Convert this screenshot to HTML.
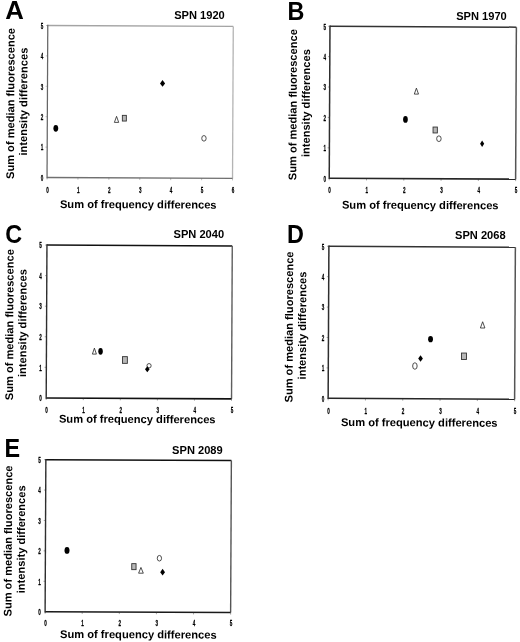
<!DOCTYPE html>
<html><head><meta charset="utf-8"><style>
html,body{margin:0;padding:0;background:#fff;width:520px;height:642px;overflow:hidden}
svg{display:block;filter:grayscale(1)}
text{font-family:"Liberation Sans", sans-serif;font-weight:bold;fill:#000}
.t{stroke:#000;stroke-width:0.25px}
</style></head><body>
<svg width="520" height="642" viewBox="0 0 520 642">
<rect width="520" height="642" fill="#fff"/>
<g><line x1="47.77" y1="25.51" x2="233.27" y2="26.41" stroke="#a4a4a4" stroke-width="1.3"/><line x1="233.27" y1="26.41" x2="232.53" y2="178.41" stroke="#b4b4b4" stroke-width="1.3"/><line x1="47.03" y1="177.51" x2="232.53" y2="178.41" stroke="#707070" stroke-width="1.3"/><line x1="47.78" y1="24.81" x2="47.03" y2="178.21" stroke="#666" stroke-width="1.25"/><path d="M47.03 177.51v2M77.95 177.66v2M108.86 177.81v2M139.78 177.96v2M170.69 178.11v2M201.61 178.26v2M232.53 178.41v2M47.18 147.11h-1.8M47.33 116.71h-1.8M47.48 86.31h-1.8M47.62 55.91h-1.8M47.77 25.51h-1.8" stroke="#666" stroke-width="0.7" fill="none" opacity="0.6"/><text transform="translate(47.4 193) scale(0.56 1)" font-size="8.2" text-anchor="middle" class="t">0</text><text transform="translate(78.32 193) scale(0.56 1)" font-size="8.2" text-anchor="middle" class="t">1</text><text transform="translate(109.23 193) scale(0.56 1)" font-size="8.2" text-anchor="middle" class="t">2</text><text transform="translate(140.15 193) scale(0.56 1)" font-size="8.2" text-anchor="middle" class="t">3</text><text transform="translate(171.07 193) scale(0.56 1)" font-size="8.2" text-anchor="middle" class="t">4</text><text transform="translate(201.98 193) scale(0.56 1)" font-size="8.2" text-anchor="middle" class="t">5</text><text transform="translate(232.9 193) scale(0.56 1)" font-size="8.2" text-anchor="middle" class="t">6</text><text transform="translate(43.2 180.79) scale(0.56 1)" font-size="8.2" text-anchor="end" class="t">0</text><text transform="translate(43.2 150.39) scale(0.56 1)" font-size="8.2" text-anchor="end" class="t">1</text><text transform="translate(43.2 119.99) scale(0.56 1)" font-size="8.2" text-anchor="end" class="t">2</text><text transform="translate(43.2 89.59) scale(0.56 1)" font-size="8.2" text-anchor="end" class="t">3</text><text transform="translate(43.2 59.19) scale(0.56 1)" font-size="8.2" text-anchor="end" class="t">4</text><text transform="translate(43.2 28.79) scale(0.56 1)" font-size="8.2" text-anchor="end" class="t">5</text><text transform="translate(5.3 19) scale(0.99 1)" font-size="26">A</text><text transform="translate(224.8 18.8) scale(1 1.05)" font-size="11.1" text-anchor="end">SPN 1920</text><text transform="translate(59.9 207.9) rotate(0.28)" font-size="11.15">Sum of frequency differences</text><text transform="translate(14.3 103.5) rotate(-89.72)" font-size="11.1" text-anchor="middle">Sum of median fluorescence</text><text transform="translate(27.25 101.65) rotate(-89.72)" font-size="11.1" text-anchor="middle">intensity differences</text><ellipse cx="55.8" cy="128.3" rx="2.4" ry="3.4" fill="#000"/><path d="M116.55 116.35L118.7 122.4L114.4 122.4Z" fill="#fff" stroke="#222" stroke-width="0.8" stroke-linejoin="round"/><rect x="122.35" y="115.35" width="4" height="5.7" fill="#b8b8b8" stroke="#333" stroke-width="0.9"/><path d="M162.55 80L165.1 83.4L162.55 86.8L160 83.4Z" fill="#000"/><ellipse cx="203.95" cy="138.35" rx="2.2" ry="2.8" fill="#fff" stroke="#3a3a3a" stroke-width="0.9"/></g>
<g><line x1="329.97" y1="26.25" x2="516.37" y2="27.16" stroke="#333" stroke-width="1.5"/><line x1="516.37" y1="27.16" x2="515.63" y2="179.15" stroke="#555" stroke-width="1.5"/><line x1="329.23" y1="178.24" x2="515.63" y2="179.15" stroke="#262626" stroke-width="1.6"/><line x1="329.98" y1="25.55" x2="329.23" y2="178.94" stroke="#2e2e2e" stroke-width="1.5"/><path d="M329.23 178.24v2M366.51 178.43v2M403.79 178.61v2M441.07 178.79v2M478.35 178.97v2M515.63 179.15v2M329.38 147.84h-1.8M329.53 117.44h-1.8M329.68 87.04h-1.8M329.82 56.65h-1.8M329.97 26.25h-1.8" stroke="#2e2e2e" stroke-width="0.7" fill="none" opacity="0.6"/><text transform="translate(329.6 193) scale(0.56 1)" font-size="8.2" text-anchor="middle" class="t">0</text><text transform="translate(366.88 193) scale(0.56 1)" font-size="8.2" text-anchor="middle" class="t">1</text><text transform="translate(404.16 193) scale(0.56 1)" font-size="8.2" text-anchor="middle" class="t">2</text><text transform="translate(441.44 193) scale(0.56 1)" font-size="8.2" text-anchor="middle" class="t">3</text><text transform="translate(478.72 193) scale(0.56 1)" font-size="8.2" text-anchor="middle" class="t">4</text><text transform="translate(516 193) scale(0.56 1)" font-size="8.2" text-anchor="middle" class="t">5</text><text transform="translate(326 181.53) scale(0.56 1)" font-size="8.2" text-anchor="end" class="t">0</text><text transform="translate(326 151.13) scale(0.56 1)" font-size="8.2" text-anchor="end" class="t">1</text><text transform="translate(326 120.73) scale(0.56 1)" font-size="8.2" text-anchor="end" class="t">2</text><text transform="translate(326 90.33) scale(0.56 1)" font-size="8.2" text-anchor="end" class="t">3</text><text transform="translate(326 59.93) scale(0.56 1)" font-size="8.2" text-anchor="end" class="t">4</text><text transform="translate(326 29.53) scale(0.56 1)" font-size="8.2" text-anchor="end" class="t">5</text><text transform="translate(287.5 19.7) scale(0.9 1)" font-size="26">B</text><text transform="translate(506.8 19.7) scale(1 1.05)" font-size="11.1" text-anchor="end">SPN 1970</text><text transform="translate(341.9 208.6) rotate(0.28)" font-size="11.15">Sum of frequency differences</text><text transform="translate(296.65 104.7) rotate(-89.72)" font-size="11.1" text-anchor="middle">Sum of median fluorescence</text><text transform="translate(309.85 103.15) rotate(-89.72)" font-size="11.1" text-anchor="middle">intensity differences</text><path d="M416.4 88.15L418.5 94.1L414.3 94.1Z" fill="#fff" stroke="#222" stroke-width="0.8" stroke-linejoin="round"/><ellipse cx="405.45" cy="119.45" rx="2.35" ry="3.35" fill="#000"/><rect x="433.05" y="127.05" width="4.3" height="5.9" fill="#b8b8b8" stroke="#333" stroke-width="0.9"/><ellipse cx="438.9" cy="138.7" rx="2.25" ry="2.85" fill="#fff" stroke="#3a3a3a" stroke-width="0.9"/><path d="M482.15 140.5L484.2 143.7L482.15 146.9L480.1 143.7Z" fill="#000"/></g>
<g><line x1="46.95" y1="245.07" x2="232.27" y2="245.97" stroke="#111" stroke-width="1.4"/><line x1="232.27" y1="245.97" x2="231.53" y2="398.83" stroke="#5e5e5e" stroke-width="1.4"/><line x1="46.21" y1="397.93" x2="231.53" y2="398.83" stroke="#111" stroke-width="1.6"/><line x1="46.96" y1="244.37" x2="46.2" y2="398.63" stroke="#2e2e2e" stroke-width="1.4"/><path d="M46.21 397.93v2M83.27 398.11v2M120.33 398.29v2M157.4 398.47v2M194.46 398.65v2M231.53 398.83v2M46.36 367.35h-1.8M46.51 336.78h-1.8M46.66 306.21h-1.8M46.81 275.64h-1.8M46.95 245.07h-1.8" stroke="#2e2e2e" stroke-width="0.7" fill="none" opacity="0.6"/><text transform="translate(46.58 413) scale(0.56 1)" font-size="8.2" text-anchor="middle" class="t">0</text><text transform="translate(83.64 413) scale(0.56 1)" font-size="8.2" text-anchor="middle" class="t">1</text><text transform="translate(120.71 413) scale(0.56 1)" font-size="8.2" text-anchor="middle" class="t">2</text><text transform="translate(157.77 413) scale(0.56 1)" font-size="8.2" text-anchor="middle" class="t">3</text><text transform="translate(194.84 413) scale(0.56 1)" font-size="8.2" text-anchor="middle" class="t">4</text><text transform="translate(231.9 413) scale(0.56 1)" font-size="8.2" text-anchor="middle" class="t">5</text><text transform="translate(41.78 401.21) scale(0.56 1)" font-size="8.2" text-anchor="end" class="t">0</text><text transform="translate(41.78 370.64) scale(0.56 1)" font-size="8.2" text-anchor="end" class="t">1</text><text transform="translate(41.78 340.06) scale(0.56 1)" font-size="8.2" text-anchor="end" class="t">2</text><text transform="translate(41.78 309.49) scale(0.56 1)" font-size="8.2" text-anchor="end" class="t">3</text><text transform="translate(41.78 278.92) scale(0.56 1)" font-size="8.2" text-anchor="end" class="t">4</text><text transform="translate(41.78 248.35) scale(0.56 1)" font-size="8.2" text-anchor="end" class="t">5</text><text transform="translate(5.2 242.6) scale(0.9 1)" font-size="26">C</text><text transform="translate(224.1 237.5) scale(1 1.05)" font-size="11.1" text-anchor="end">SPN 2040</text><text transform="translate(58.9 422.6) rotate(0.28)" font-size="11.15">Sum of frequency differences</text><text transform="translate(13.3 324.7) rotate(-89.72)" font-size="11.1" text-anchor="middle">Sum of median fluorescence</text><text transform="translate(26.35 323.15) rotate(-89.72)" font-size="11.1" text-anchor="middle">intensity differences</text><path d="M94.4 348.15L96.4 354.1L92.4 354.1Z" fill="#fff" stroke="#222" stroke-width="0.8" stroke-linejoin="round"/><ellipse cx="100.55" cy="351.35" rx="2.25" ry="3.35" fill="#000"/><rect x="122.45" y="356.65" width="4.9" height="6.7" fill="#b8b8b8" stroke="#333" stroke-width="0.9"/><ellipse cx="149.05" cy="365.75" rx="2.1" ry="2.2" fill="#fff" stroke="#3a3a3a" stroke-width="0.9"/><path d="M147.3 366.2L149.6 369.25L147.3 372.3L145 369.25Z" fill="#000"/></g>
<g><line x1="328.89" y1="246.26" x2="515.37" y2="247.17" stroke="#333" stroke-width="1.5"/><line x1="515.37" y1="247.17" x2="514.63" y2="399.22" stroke="#555" stroke-width="1.5"/><line x1="328.15" y1="398.31" x2="514.63" y2="399.22" stroke="#262626" stroke-width="1.6"/><line x1="328.9" y1="245.56" x2="328.15" y2="399.01" stroke="#2e2e2e" stroke-width="1.5"/><path d="M328.15 398.31v2M365.45 398.5v2M402.74 398.68v2M440.04 398.86v2M477.33 399.04v2M514.63 399.22v2M328.3 367.9h-1.8M328.45 337.49h-1.8M328.6 307.08h-1.8M328.74 276.67h-1.8M328.89 246.26h-1.8" stroke="#2e2e2e" stroke-width="0.7" fill="none" opacity="0.6"/><text transform="translate(328.52 414) scale(0.56 1)" font-size="8.2" text-anchor="middle" class="t">0</text><text transform="translate(365.82 414) scale(0.56 1)" font-size="8.2" text-anchor="middle" class="t">1</text><text transform="translate(403.11 414) scale(0.56 1)" font-size="8.2" text-anchor="middle" class="t">2</text><text transform="translate(440.41 414) scale(0.56 1)" font-size="8.2" text-anchor="middle" class="t">3</text><text transform="translate(477.7 414) scale(0.56 1)" font-size="8.2" text-anchor="middle" class="t">4</text><text transform="translate(515 414) scale(0.56 1)" font-size="8.2" text-anchor="middle" class="t">5</text><text transform="translate(324.32 401.6) scale(0.56 1)" font-size="8.2" text-anchor="end" class="t">0</text><text transform="translate(324.32 371.19) scale(0.56 1)" font-size="8.2" text-anchor="end" class="t">1</text><text transform="translate(324.32 340.77) scale(0.56 1)" font-size="8.2" text-anchor="end" class="t">2</text><text transform="translate(324.32 310.36) scale(0.56 1)" font-size="8.2" text-anchor="end" class="t">3</text><text transform="translate(324.32 279.95) scale(0.56 1)" font-size="8.2" text-anchor="end" class="t">4</text><text transform="translate(324.32 249.54) scale(0.56 1)" font-size="8.2" text-anchor="end" class="t">5</text><text transform="translate(286.9 243) scale(0.9 1)" font-size="26">D</text><text transform="translate(505.6 239.1) scale(1 1.05)" font-size="11.1" text-anchor="end">SPN 2068</text><text transform="translate(340.9 426) rotate(0.28)" font-size="11.15">Sum of frequency differences</text><text transform="translate(292.85 327) rotate(-89.72)" font-size="11.1" text-anchor="middle">Sum of median fluorescence</text><text transform="translate(306.05 325.5) rotate(-89.72)" font-size="11.1" text-anchor="middle">intensity differences</text><ellipse cx="430.55" cy="339.2" rx="2.45" ry="3.1" fill="#000"/><path d="M420.55 355.2L422.9 358.45L420.55 361.7L418.2 358.45Z" fill="#000"/><ellipse cx="414.9" cy="366" rx="2.25" ry="3.25" fill="#fff" stroke="#3a3a3a" stroke-width="0.9"/><path d="M482.65 321.75L484.9 328L480.4 328Z" fill="#fff" stroke="#222" stroke-width="0.8" stroke-linejoin="round"/><rect x="461.45" y="353.05" width="5" height="6.5" fill="#b8b8b8" stroke="#333" stroke-width="0.9"/></g>
<g><line x1="45.85" y1="459.65" x2="231.37" y2="460.55" stroke="#111" stroke-width="1.5"/><line x1="231.37" y1="460.55" x2="230.63" y2="612.6" stroke="#555" stroke-width="1.4"/><line x1="45.11" y1="611.7" x2="230.63" y2="612.6" stroke="#1a1a1a" stroke-width="1.5"/><line x1="45.86" y1="458.95" x2="45.11" y2="612.4" stroke="#2e2e2e" stroke-width="1.4"/><path d="M45.11 611.7v2M82.21 611.88v2M119.32 612.06v2M156.42 612.24v2M193.52 612.42v2M230.63 612.6v2M45.26 581.29h-1.8M45.41 550.88h-1.8M45.56 520.47h-1.8M45.7 490.06h-1.8M45.85 459.65h-1.8" stroke="#2e2e2e" stroke-width="0.7" fill="none" opacity="0.6"/><text transform="translate(45.48 626) scale(0.56 1)" font-size="8.2" text-anchor="middle" class="t">0</text><text transform="translate(82.58 626) scale(0.56 1)" font-size="8.2" text-anchor="middle" class="t">1</text><text transform="translate(119.69 626) scale(0.56 1)" font-size="8.2" text-anchor="middle" class="t">2</text><text transform="translate(156.79 626) scale(0.56 1)" font-size="8.2" text-anchor="middle" class="t">3</text><text transform="translate(193.9 626) scale(0.56 1)" font-size="8.2" text-anchor="middle" class="t">4</text><text transform="translate(231 626) scale(0.56 1)" font-size="8.2" text-anchor="middle" class="t">5</text><text transform="translate(40.88 614.98) scale(0.56 1)" font-size="8.2" text-anchor="end" class="t">0</text><text transform="translate(40.88 584.57) scale(0.56 1)" font-size="8.2" text-anchor="end" class="t">1</text><text transform="translate(40.88 554.16) scale(0.56 1)" font-size="8.2" text-anchor="end" class="t">2</text><text transform="translate(40.88 523.75) scale(0.56 1)" font-size="8.2" text-anchor="end" class="t">3</text><text transform="translate(40.88 493.34) scale(0.56 1)" font-size="8.2" text-anchor="end" class="t">4</text><text transform="translate(40.88 462.93) scale(0.56 1)" font-size="8.2" text-anchor="end" class="t">5</text><text transform="translate(4.4 457.1) scale(0.9 1)" font-size="26">E</text><text transform="translate(222.7 453.5) scale(1 1.05)" font-size="11.1" text-anchor="end">SPN 2089</text><text transform="translate(60 637.9) rotate(0.28)" font-size="11.15">Sum of frequency differences</text><text transform="translate(11.85 541) rotate(-89.72)" font-size="11.1" text-anchor="middle">Sum of median fluorescence</text><text transform="translate(24.95 539.35) rotate(-89.72)" font-size="11.1" text-anchor="middle">intensity differences</text><ellipse cx="67" cy="550.45" rx="2.5" ry="3.35" fill="#000"/><rect x="131.75" y="563.65" width="4.3" height="6" fill="#b8b8b8" stroke="#333" stroke-width="0.9"/><path d="M140.95 567.45L143.3 573.2L138.6 573.2Z" fill="#fff" stroke="#222" stroke-width="0.8" stroke-linejoin="round"/><ellipse cx="159.4" cy="558.25" rx="2.15" ry="2.8" fill="#fff" stroke="#3a3a3a" stroke-width="0.9"/><path d="M162.6 568.8L165 572.2L162.6 575.6L160.2 572.2Z" fill="#000"/></g>
</svg>
</body></html>
